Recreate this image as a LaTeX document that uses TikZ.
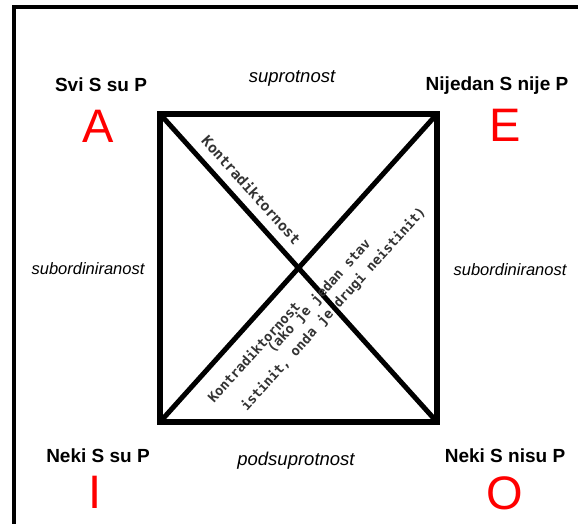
\documentclass[tikz,border=0pt]{standalone}
\usepackage{fontspec}
\setmainfont{Liberation Sans}
\newfontfamily\diagfont{DejaVu Sans Mono}
\usetikzlibrary{positioning,calc}

\begin{document}
\begin{tikzpicture}[x=1pt,y=1pt,
    prop/.style={font=\fontsize{19}{22}\selectfont\bfseries, inner sep=0pt, anchor=base},
    letter/.style={font=\fontsize{47}{50}\selectfont, text=red, inner sep=0pt, anchor=base},
    rel/.style={font=\fontsize{18.5}{22}\selectfont\itshape, inner sep=0pt, anchor=base},
    siderel/.style={font=\fontsize{16.5}{20}\selectfont\itshape, inner sep=0pt, anchor=base},
    diagtext/.style={text=black!80, inner sep=0pt, sloped}]
    \useasboundingbox (0,0) rectangle (578,524);
    \clip (0,0) rectangle (578,524);

    % outer frame, only left and top edges visible
    \draw[line width=4pt] (14,-20) |- (600,517);

    % corners of the square
    \coordinate (a) at (160,410);
    \coordinate (e) at (437,410);
    \coordinate (i) at (160,102);
    \coordinate (o) at (437,102);

    \draw[line width=6pt] (i) rectangle (e);

    % diagonals
    \draw[line width=5pt] (a) -- (o)
        node[diagtext, pos=0.284, above=9pt, font=\diagfont\bfseries\fontsize{14.5}{18}\selectfont] (kontra) {Kontradiktornost};
    \draw[line width=5pt] (i) -- (e)
        node[diagtext, pos=0.277, below=14.5pt, font=\diagfont\bfseries\fontsize{13.5}{17}\selectfont] (kontrb) {Kontradiktornost}
        node[diagtext, pos=0.483, below=25pt, align=center, font=\diagfont\bfseries\fontsize{13.5}{19.2}\selectfont] (ako) {(ako je jedan stav\\istinit, onda je drugi neistinit)};

    % propositions
    \node[prop] (svi) at (101,432) {Svi S su P};
    \node[letter] (la) at (98,381) {A};
    \node[prop] (nijedan) at (497,433) {Nijedan S nije P};
    \node[letter] (le) at (505,382) {E};
    \node[prop] (nekisu) at (98,61) {Neki S su P};
    \node[letter] (li) at (95,15) {I};
    \node[prop] (nekinisu) at (505,61) {Neki S nisu P};
    \node[letter] (lo) at (505,14) {O};

    % relations
    \node[rel] (suprot) at (292,441) {suprotnost};
    \node[rel] (podsup) at (296,58) {podsuprotnost};
    \node[siderel] (subl) at (88,249) {subordiniranost};
    \node[siderel] (subr) at (510,248) {subordiniranost};
\end{tikzpicture}
\end{document}
